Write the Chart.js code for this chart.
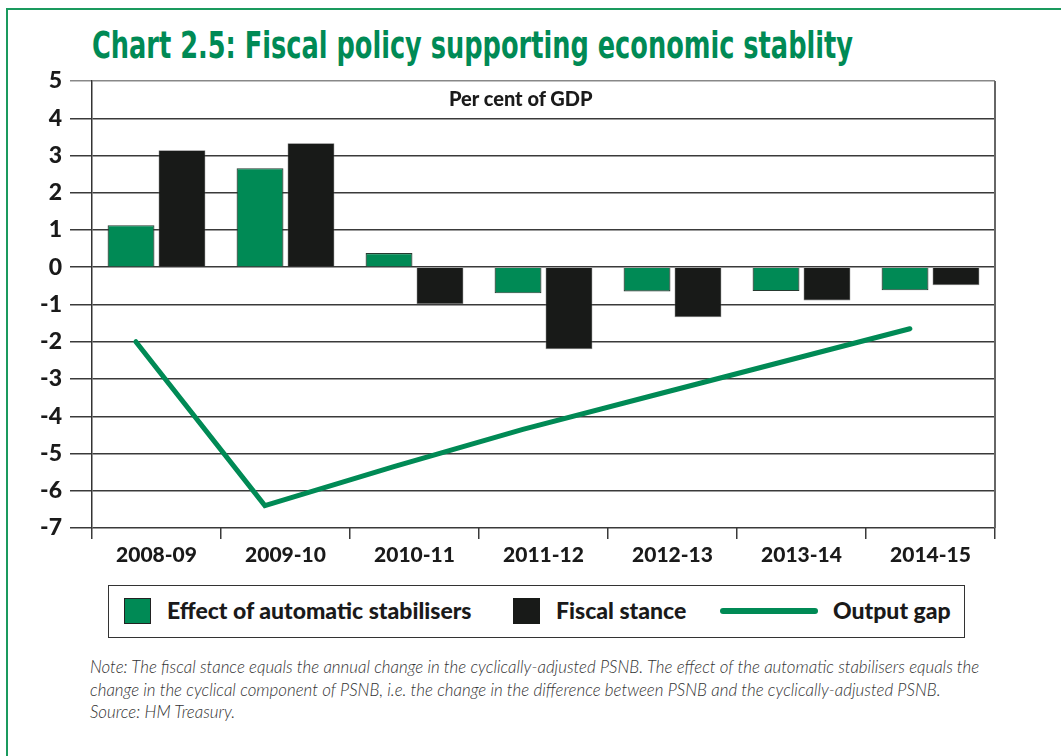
<!DOCTYPE html>
<html lang="en">
<head>
  <meta charset="UTF-8" />
  <title>Chart 2.5: Fiscal policy supporting economic stablity</title>
  <script src="https://cdn.jsdelivr.net/npm/chart.js"></script>
  <style>
    body {
      margin: 0;
      width: 1061px;
      height: 756px;
      overflow: hidden;
      background: #fff;
      font-family: Lato, "Open Sans", sans-serif;
      position: relative;
    }
    .frame {
      position: absolute;
      left: 6px;
      top: 8px;
      width: 1100px;
      height: 900px;
      border-left: 2px solid #1a9a5e;
      border-top: 2px solid #1a9a5e;
    }
    h1 {
      position: absolute;
      left: 92px;
      top: 23px;
      margin: 0;
      font-family: "Liberation Sans Narrow", "DejaVu Sans Condensed", Lato, sans-serif;
      font-stretch: condensed;
      font-size: 38px;
      font-weight: bold;
      color: #008a55;
      white-space: nowrap;
      transform-origin: left top;
    }
    .chart-box {
      position: absolute;
      left: 0;
      top: 50px;
      width: 1061px;
      height: 520px;
    }
    .unit {
      position: absolute;
      left: 449px;
      top: 86px;
      font-weight: 900;
      font-size: 20px;
      color: #1a1a1a;
    }
    .legend {
      position: absolute;
      left: 108px;
      top: 585px;
      width: 855px;
      height: 51px;
      border: 1.5px solid #333;
      font-weight: 900;
      font-size: 23px;
      color: #1a1a1a;
    }
    .legend span { position: absolute; white-space: nowrap; }
    .sw { width: 27px; height: 26px; top: 12px; box-sizing: border-box; }
    .note {
      position: absolute;
      left: 90px;
      top: 656px;
      font-style: italic;
      font-weight: 300;
      font-size: 16.9px;
      line-height: 22.5px;
      color: #333;
      white-space: nowrap;
    }
  </style>
</head>
<body>
  <div class="frame"></div>
  <h1 id="title">Chart 2.5: Fiscal policy supporting economic stablity</h1>

  <div class="chart-box"><canvas id="fiscalChart"></canvas></div>
  <div class="unit">Per cent of GDP</div>

  <div class="legend" id="legend"></div>

  <div class="note">Note: The fiscal stance equals the annual change in the cyclically-adjusted PSNB. The effect of the automatic stabilisers equals the<br>change in the cyclical component of PSNB, i.e. the change in the difference between PSNB and the cyclically-adjusted PSNB.<br>Source: HM Treasury.</div>

  <script>
    // data (per cent of GDP)
    const years = ['2008-09', '2009-10', '2010-11', '2011-12', '2012-13', '2013-14', '2014-15'];
    const stabilisers = [1.13, 2.66, 0.38, -0.70, -0.65, -0.64, -0.62];
    const fiscalStance = [3.14, 3.33, -0.99, -2.20, -1.34, -0.89, -0.48];
    const outputGap = [-2.0, -6.4, -5.35, -4.35, -3.45, -2.55, -1.65];
    const seriesNames = ['Effect of automatic stabilisers', 'Fiscal stance', 'Output gap'];

    const green = '#008a55';
    const black = '#181a18';
    const gridColor = '#3a3a3a';

    // squeeze the condensed title to the width of the original
    const title = document.getElementById('title');
    title.style.transform = 'scaleX(' + (761 / title.getBoundingClientRect().width) + ')';

    // legend
    const legend = document.getElementById('legend');
    legend.innerHTML =
      '<span class="sw" style="left:15px;background:' + green + ';border:1.5px solid #222"></span>' +
      '<span style="left:58px;top:10px">' + seriesNames[0] + '</span>' +
      '<span class="sw" style="left:404px;background:' + black + '"></span>' +
      '<span style="left:447px;top:10px">' + seriesNames[1] + '</span>' +
      '<span style="left:611px;top:22px;width:98px;height:6px;border-radius:3px;background:' + green + '"></span>' +
      '<span style="left:724px;top:10px">' + seriesNames[2] + '</span>';

    // draws the right edge of the plot frame
    const rightEdge = {
      id: 'rightEdge',
      afterDraw(chart) {
        const { ctx, chartArea } = chart;
        ctx.save();
        ctx.strokeStyle = '#666';
        ctx.lineWidth = 2;
        ctx.beginPath();
        ctx.moveTo(chartArea.right, chartArea.top);
        ctx.lineTo(chartArea.right, chartArea.bottom);
        ctx.stroke();
        ctx.restore();
      }
    };

    // in the original the output gap line is drawn over the left bar of each pair,
    // so shift the line dataset left by a fraction of a category
    const lineShift = {
      id: 'lineShift',
      beforeDatasetDraw(chart, args) {
        if (args.meta.type !== 'line') return;
        const x = chart.scales.x;
        const step = x.getPixelForValue(1) - x.getPixelForValue(0);
        chart.ctx.save();
        chart.ctx.translate(-0.16 * step, 0);
      },
      afterDatasetDraw(chart, args) {
        if (args.meta.type !== 'line') return;
        chart.ctx.restore();
      }
    };

    const ctx = document.getElementById('fiscalChart').getContext('2d');
    new Chart(ctx, {
      type: 'bar',
      data: {
        labels: years,
        datasets: [
          {
            label: seriesNames[0],
            data: stabilisers,
            backgroundColor: green,
            borderColor: '#263a30',
            borderWidth: 1.2,
            barPercentage: 0.92,
            categoryPercentage: 0.79,
            order: 1
          },
          {
            label: seriesNames[1],
            data: fiscalStance,
            backgroundColor: black,
            borderColor: '#777',
            borderWidth: 0.6,
            barPercentage: 0.92,
            categoryPercentage: 0.79,
            order: 1
          },
          {
            type: 'line',
            label: seriesNames[2],
            data: outputGap,
            borderColor: green,
            borderWidth: 5,
            borderCapStyle: 'round',
            borderJoinStyle: 'miter',
            pointRadius: 0,
            tension: 0,
            order: 0
          }
        ]
      },
      options: {
        responsive: true,
        maintainAspectRatio: false,
        animation: false,
        layout: { padding: { top: 31, right: 66, left: 0, bottom: 0 } },
        plugins: {
          legend: { display: false },
          tooltip: { enabled: false }
        },
        scales: {
          x: {
            offset: true,
            grid: {
              offset: true,
              drawOnChartArea: false,
              drawTicks: true,
              tickLength: 11,
              color: gridColor,
              lineWidth: 1.5
            },
            border: { display: false },
            ticks: {
              color: '#1a1a1a',
              padding: 4,
              font: { family: 'Lato', size: 21, weight: 900 }
            },
            afterFit(scale) { scale.height = 42; }
          },
          y: {
            min: -7,
            max: 5,
            ticks: {
              stepSize: 1,
              color: '#1a1a1a',
              padding: 8,
              font: { family: 'Lato', size: 23, weight: 900 }
            },
            grid: {
              color: c => (c.tick && c.tick.value === 5 ? '#888' : gridColor),
              lineWidth: 1.5,
              drawTicks: true,
              tickLength: 22
            },
            border: { color: '#333', width: 1.5 },
            afterFit(scale) { scale.width = 92; }
          }
        }
      },
      plugins: [rightEdge, lineShift]
    });
  </script>
</body>
</html>
